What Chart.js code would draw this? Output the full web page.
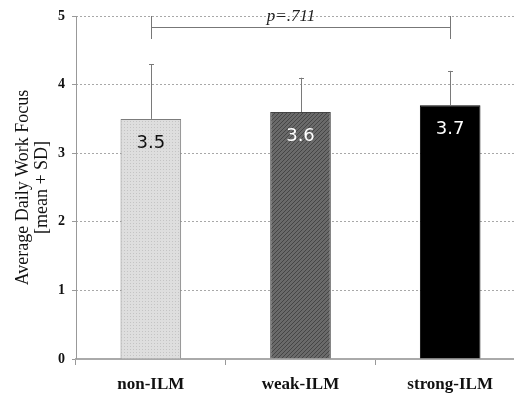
<!DOCTYPE html>
<html>
<head>
<meta charset="utf-8">
<script src="https://cdn.jsdelivr.net/npm/chart.js@4.4.1/dist/chart.umd.min.js"></script>
<style>
  html, body { margin: 0; padding: 0; background: #fff; overflow: hidden; }
  #wrap { width: 525px; height: 395px; }
</style>
</head>
<body>
<div id="wrap"><canvas id="c" width="525" height="395"></canvas></div>
<script>
// Work focus by ILM group
const categories = ['non-ILM', 'weak-ILM', 'strong-ILM'];
const means = [3.5, 3.6, 3.7];
const sds = [0.8, 0.5, 0.5];
const valueLabels = ['3.5', '3.6', '3.7'];
const yTicks = [0, 1, 2, 3, 4, 5];
const pLabel = 'p=.711';

function dotPattern() {
  const c = document.createElement('canvas');
  c.width = 3; c.height = 3;
  const g = c.getContext('2d');
  g.fillStyle = '#dedede';
  g.fillRect(0, 0, 3, 3);
  g.fillStyle = '#c4c4c4';
  g.fillRect(1, 1, 1, 1);
  return g.createPattern(c, 'repeat');
}
function hatchPattern() {
  const c = document.createElement('canvas');
  c.width = 4; c.height = 4;
  const g = c.getContext('2d');
  g.fillStyle = '#6a6a6a';
  g.fillRect(0, 0, 4, 4);
  g.strokeStyle = '#454545';
  g.lineWidth = 1;
  g.beginPath();
  g.moveTo(0, 4); g.lineTo(4, 0);
  g.moveTo(-1, 1); g.lineTo(1, -1);
  g.moveTo(3, 5); g.lineTo(5, 3);
  g.stroke();
  return g.createPattern(c, 'repeat');
}

const serif = "'Liberation Serif', 'DejaVu Serif', serif";

// solid vertical axis line (grid lines themselves are dashed)
const yAxisLine = {
  id: 'yAxisLine',
  beforeDatasetsDraw(chart) {
    const ctx = chart.ctx;
    const a = chart.chartArea;
    ctx.save();
    ctx.strokeStyle = '#999';
    ctx.lineWidth = 1;
    ctx.beginPath();
    ctx.moveTo(Math.round(a.left) + 0.5, a.top);
    ctx.lineTo(Math.round(a.left) + 0.5, a.bottom);
    ctx.stroke();
    ctx.restore();
  }
};

const extras = {
  id: 'extras',
  afterDatasetsDraw(chart) {
    const ctx = chart.ctx;
    const y = chart.scales.y;
    const meta = chart.getDatasetMeta(0);
    ctx.save();
    // error bars (upper only)
    ctx.strokeStyle = '#7a7a7a';
    ctx.lineWidth = 1;
    meta.data.forEach((bar, i) => {
      const cx = Math.round(bar.x) + 0.5;
      const top = y.getPixelForValue(means[i] + sds[i]);
      const base = y.getPixelForValue(means[i]);
      ctx.beginPath();
      ctx.moveTo(cx, base);
      ctx.lineTo(cx, top);
      ctx.moveTo(cx - 2.5, Math.round(top) + 0.5);
      ctx.lineTo(cx + 2.5, Math.round(top) + 0.5);
      ctx.stroke();
    });
    // value labels inside bars
    ctx.font = "18px 'DejaVu Sans', sans-serif";
    ctx.textAlign = 'center';
    ctx.textBaseline = 'middle';
    meta.data.forEach((bar, i) => {
      ctx.fillStyle = i === 0 ? '#111' : '#fff';
      ctx.fillText(valueLabels[i], bar.x, y.getPixelForValue(means[i]) + 24);
    });
    // comparison bracket
    const x0 = Math.round(meta.data[0].x) + 0.5;
    const x2 = Math.round(meta.data[2].x) + 0.5;
    const yTop = y.getPixelForValue(5);
    ctx.strokeStyle = '#777';
    ctx.beginPath();
    ctx.moveTo(x0, yTop); ctx.lineTo(x0, yTop + 23);
    ctx.moveTo(x2, yTop); ctx.lineTo(x2, yTop + 23);
    ctx.moveTo(x0, yTop + 11.5); ctx.lineTo(x2, yTop + 11.5);
    ctx.stroke();
    ctx.font = "italic 17px " + serif;
    ctx.fillStyle = '#222';
    ctx.textBaseline = 'alphabetic';
    ctx.fillText(pLabel, (x0 + x2) / 2 - 10, yTop + 5);
    ctx.restore();
  }
};

new Chart(document.getElementById('c'), {
  type: 'bar',
  data: {
    labels: categories,
    datasets: [{
      data: means,
      backgroundColor: [dotPattern(), hatchPattern(), '#000'],
      borderColor: ['#7c7c7c', '#444', '#000'],
      borderWidth: 1,
      categoryPercentage: 1,
      barPercentage: 0.405
    }]
  },
  options: {
    responsive: false,
    animation: false,
    layout: { padding: { top: 16, right: 0, left: 0, bottom: 0 } },
    plugins: { legend: { display: false }, tooltip: { enabled: false } },
    scales: {
      x: {
        grid: { drawOnChartArea: false, tickLength: 6, color: '#999', offset: true },
        border: { color: '#aaa', width: 2 },
        ticks: { color: '#111', font: { family: serif, size: 17, weight: 'bold' }, padding: 9 },
        afterFit(s) { s.height = 36; }
      },
      y: {
        min: 0, max: 5,
        afterBuildTicks(s) { s.ticks = yTicks.map(v => ({ value: v })); },
        grid: {
          color: (c) => c.tick && c.tick.value === 0 ? 'rgba(0,0,0,0)' : '#a8a8a8',
          tickBorderDash: [],
          tickColor: '#999',
          tickLength: 4
        },
        border: { display: false, dash: [2, 2] },
        ticks: { color: '#111', font: { family: serif, size: 14, weight: 'bold' }, padding: 7 },
        title: {
          display: true,
          text: ['Average Daily Work Focus', '[mean + SD]'],
          color: '#111',
          font: { family: serif, size: 18, lineHeight: 1.1 },
          padding: { top: 13, bottom: 0 }
        },
        afterFit(s) { s.width = 76; }
      }
    }
  },
  plugins: [yAxisLine, extras]
});
</script>
</body>
</html>
